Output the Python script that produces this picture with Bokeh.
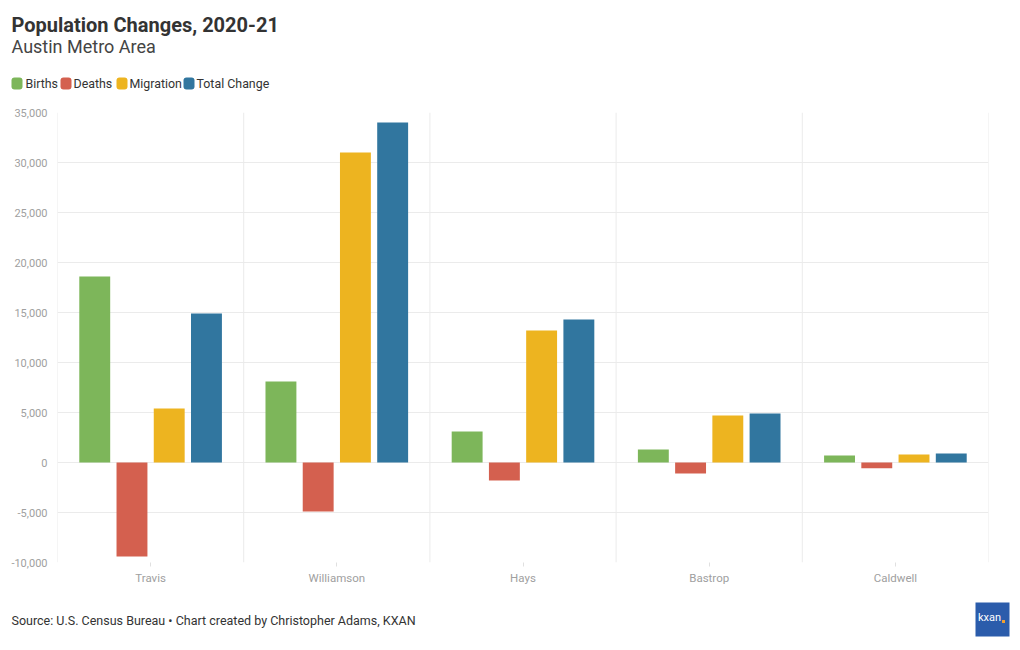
from bokeh.plotting import figure
from bokeh.models import (FactorRange, Range1d, Span, NumeralTickFormatter, FixedTicker,
                          ColumnDataSource)
from bokeh.layouts import column
from bokeh.core.properties import value
from bokeh.transform import dodge
from bokeh.embed import file_html
from bokeh.resources import INLINE

counties = ["Travis", "Williamson", "Hays", "Bastrop", "Caldwell"]
births = [18600, 8100, 3100, 1300, 700]
deaths = [-9400, -4900, -1800, -1100, -570]
migration = [5400, 31000, 13200, 4700, 800]
total = [14900, 34000, 14300, 4900, 900]
series_names = ["Births", "Deaths", "Migration", "Total Change"]
series_colors = ["#7db65a", "#d4604f", "#edb420", "#31769f"]
y_ticks = [-10000, -5000, 0, 5000, 10000, 15000, 20000, 25000, 30000, 35000]

FONT = "Roboto"
W = 1020

# ---------- header ----------
HH = 104
head = figure(width=W, height=HH, x_range=Range1d(0, W), y_range=Range1d(HH, 0),
              output_backend="svg", toolbar_location=None, x_axis_location=None,
              y_axis_location=None, min_border=0)
head.frame_align = False
head.outline_line_color = None
head.grid.visible = False
head.text(x=[11], y=[24], text=["Population Changes, 2020-21"], text_font=value(FONT),
          text_font_size="20px", text_font_style="bold", text_color="#333333",
          text_baseline="alphabetic")
head.text(x=[11], y=[46], text=["Austin Metro Area"], text_font=value(FONT),
          text_font_size="18px", text_color="#444444", text_baseline="alphabetic")
sw_x = [11, 60, 116, 183]
lbl_x = [25, 73, 129, 196]
head.quad(left=sw_x, right=[x + 11 for x in sw_x], top=[77] * 4, bottom=[89] * 4,
          fill_color=series_colors, line_color=None, border_radius=3)
head.text(x=lbl_x, y=[83] * 4, text=series_names, text_font=value(FONT),
          text_font_size="12.4px", text_color="#333333", text_baseline="alphabetic")

# ---------- main chart ----------
src = ColumnDataSource(dict(county=counties, births=births, deaths=deaths,
                            migration=migration, total=total))
p = figure(width=W, height=488, x_range=FactorRange(*counties, range_padding=0),
           y_range=Range1d(-10000, 35000), output_backend="svg", toolbar_location=None,
           min_border_left=57, min_border_right=32, min_border_top=8, min_border_bottom=30)
p.frame_align = False
p.outline_line_color = None

offsets = [-0.3, -0.1, 0.1, 0.3]
cols = ["births", "deaths", "migration", "total"]
for col, off, color in zip(cols, offsets, series_colors):
    p.vbar(x=dodge("county", off, range=p.x_range), top=col, bottom=0, width=0.166,
           source=src, fill_color=color, line_color=None)

p.xgrid.visible = False
p.ygrid.ticker = FixedTicker(ticks=y_ticks)
p.ygrid.grid_line_color = "#ebebeb"
for i in range(len(counties) + 1):
    p.add_layout(Span(location=i, dimension="height", line_color="#ebebeb", line_width=1))

p.yaxis.ticker = FixedTicker(ticks=y_ticks)
p.yaxis.formatter = NumeralTickFormatter(format="0,0")
p.yaxis.axis_line_color = None
p.yaxis.major_tick_line_color = None
p.yaxis.major_tick_out = 0
p.yaxis.major_tick_in = 0
p.yaxis.minor_tick_line_color = None
p.yaxis.minor_tick_out = 0
p.yaxis.major_label_text_color = "#a0a0a0"
p.yaxis.major_label_text_font = FONT
p.yaxis.major_label_text_font_size = "11px"
p.yaxis.major_label_standoff = 10

p.xaxis.axis_line_color = None
p.xaxis.major_tick_line_color = "#e0e0e0"
p.xaxis.major_tick_out = 4
p.xaxis.major_tick_in = 0
p.xaxis.major_label_text_color = "#a0a0a0"
p.xaxis.major_label_text_font = FONT
p.xaxis.major_label_text_font_size = "11.5px"
p.xaxis.major_label_standoff = 4

# ---------- footer ----------
FH = 58
foot = figure(width=W, height=FH, x_range=Range1d(0, W), y_range=Range1d(FH, 0),
              output_backend="svg", toolbar_location=None, x_axis_location=None,
              y_axis_location=None, min_border=0)
foot.frame_align = False
foot.outline_line_color = None
foot.grid.visible = False
foot.text(x=[11], y=[28], text=["Source: U.S. Census Bureau \u2022 Chart created by Christopher Adams, KXAN"],
          text_font=value(FONT), text_font_size="12.5px", text_color="#333333",
          text_baseline="alphabetic")
foot.quad(left=[975], right=[1009], top=[10], bottom=[44], fill_color="#2b5cab", line_color=None)
foot.text(x=[989], y=[25], text=["kxan"], text_font=value(FONT), text_font_size="11px",
          text_color="white", text_align="center", text_baseline="middle")
foot.scatter(x=[1003], y=[29], size=3, marker="square", fill_color="#f0a030", line_color=None)

layout = column(head, p, foot, spacing=0)
open("out.html", "w").write(file_html(layout, INLINE))
